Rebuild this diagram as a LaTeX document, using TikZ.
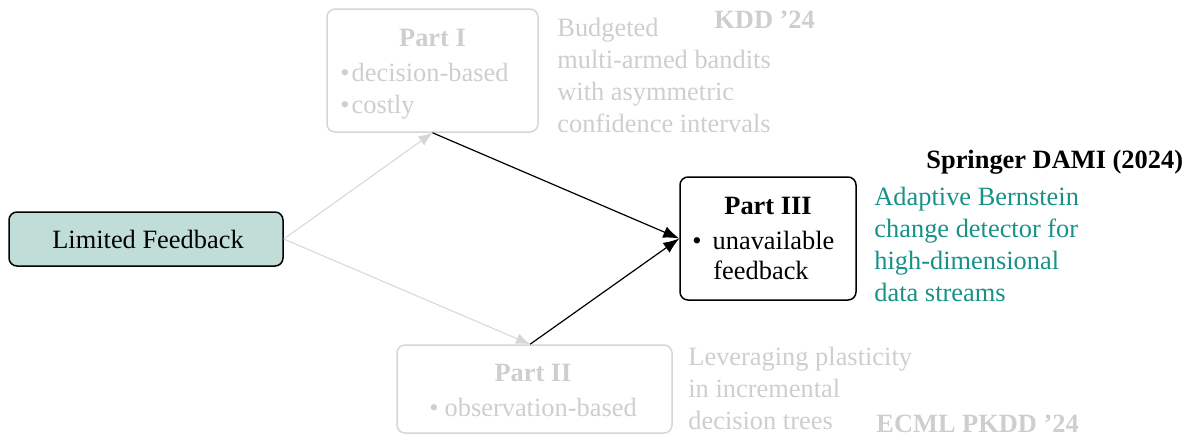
\documentclass[tikz,border=0pt]{standalone}
\usepackage{fontspec}
\setmainfont{Liberation Serif}
\usetikzlibrary{arrows.meta,calc}

\definecolor{lfFill}{RGB}{192,221,216}
\definecolor{fadedText}{RGB}{206,206,206}
\definecolor{fadedLine}{RGB}{214,214,214}
\definecolor{tealText}{RGB}{24,145,136}

\begin{document}
\begin{tikzpicture}[
  x=0.5pt, y=-0.5pt,
  every node/.style={font=\fontsize{13.2}{16}\selectfont},
  bold/.style={font=\fontsize{13.2}{16}\selectfont\bfseries},
  box/.style={draw, rounded corners=4pt, line width=0.75pt, inner sep=0pt},
  activebox/.style={box, draw=black},
  fadedbox/.style={box, draw=fadedLine},
  txt/.style={anchor=base west, inner sep=0pt},
  ctxt/.style={anchor=base, inner sep=0pt},
  faded/.style={text=fadedText},
  activearrow/.style={draw=black, line width=0.6pt, -{Latex[length=8pt,width=6pt]}},
  fadedarrow/.style={draw=fadedLine, line width=0.5pt, -{Latex[length=7pt,width=5.5pt]}},
]
\useasboundingbox (0,0) rectangle (1189,435);

% boxes
\node[activebox, fill=lfFill, minimum width=137pt, minimum height=27pt] (lf) at (146,239) {};
\node[fadedbox, minimum width=105.5pt, minimum height=61.5pt] (p1) at (432.5,70.5) {};
\node[fadedbox, minimum width=137.5pt, minimum height=44pt] (p2) at (534.5,389) {};
\node[activebox, minimum width=88pt, minimum height=61.5pt] (p3) at (768,238.5) {};
\coordinate (p2in) at ($(p2.north west)!0.484!(p2.north east)$);

% box contents
\node[ctxt] (lftext) at (148,248) {Limited Feedback};

\node[ctxt, faded, bold] (p1title) at (432.5,46) {Part I};
\node[txt, faded] (p1a) at (340,81) {\textbullet\kern1pt decision-based};
\node[txt, faded] (p1b) at (340,113) {\textbullet\kern1pt costly};

\node[ctxt, faded, bold] (p2title) at (533,381) {Part II};
\node[txt, faded] (p2a) at (429,416) {\textbullet\kern3pt observation-based};

\node[ctxt, bold] (p3title) at (768,214) {Part III};
\node[txt] (p3a) at (692,249) {\textbullet\hspace{5.5pt}unavailable};
\node[txt] (p3b) at (713,279) {feedback};

% descriptions
\node[txt, faded] (d1a) at (557,36) {Budgeted};
\node[txt, faded] (d1b) at (557,68) {multi-armed bandits};
\node[txt, faded] (d1c) at (557,100) {with asymmetric};
\node[txt, faded] (d1d) at (557,132) {confidence intervals};
\node[txt, faded, bold] (v1) at (714,28) {KDD ’24};

\node[txt, faded] (d2a) at (688,365) {Leveraging plasticity};
\node[txt, faded] (d2b) at (688,397) {in incremental};
\node[txt, faded] (d2c) at (688,429) {decision trees};
\node[txt, faded, bold] (v2) at (876,432) {ECML PKDD ’24};

\node[txt, bold] (v3) at (926,168) {Springer DAMI (2024)};
\node[txt, text=tealText] (d3a) at (874,205) {Adaptive Bernstein};
\node[txt, text=tealText] (d3b) at (874,237) {change detector for};
\node[txt, text=tealText] (d3c) at (874,269) {high-dimensional};
\node[txt, text=tealText] (d3d) at (874,301) {data streams};

% connectors
\draw[fadedarrow] (lf.east) -- (p1.south);
\draw[fadedarrow] (lf.east) -- (p2in);
\draw[activearrow] (p1.south) -- (p3.west);
\draw[activearrow] (p2in) -- (p3.west);
\end{tikzpicture}
\end{document}
